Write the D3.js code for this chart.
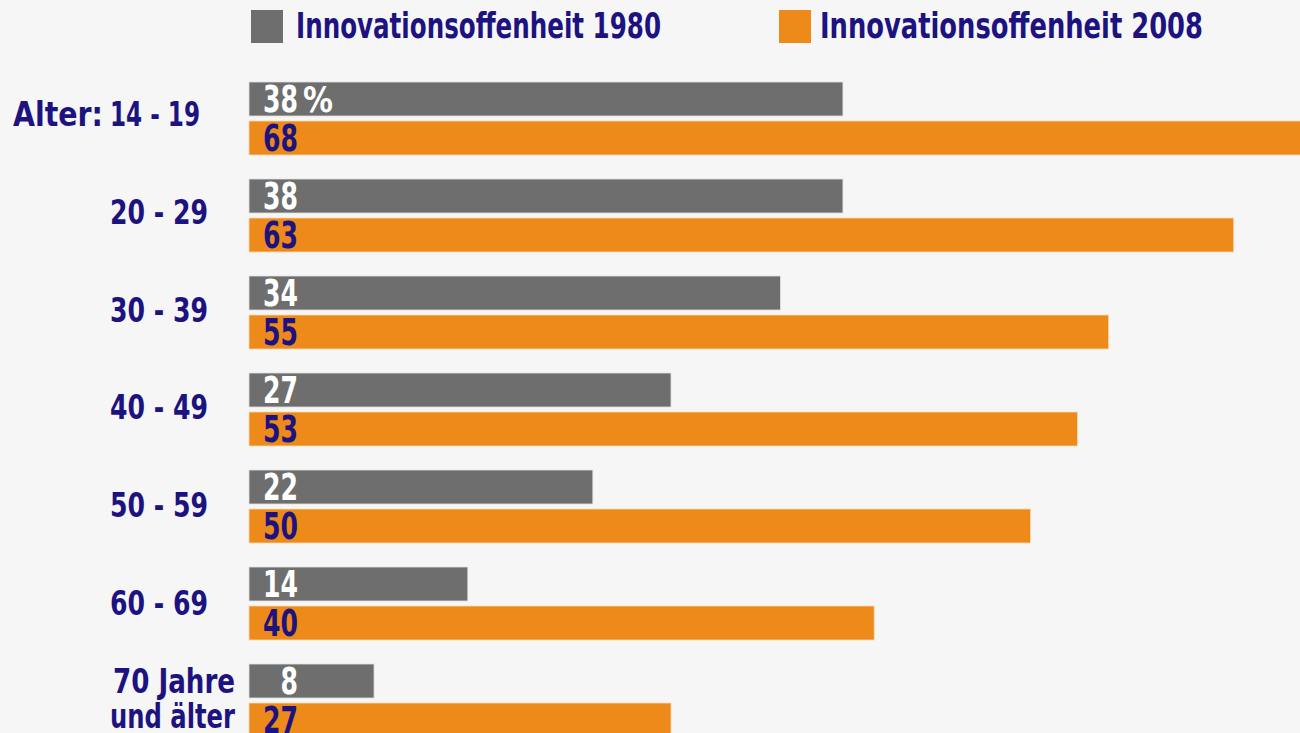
<!DOCTYPE html>
<html><head><meta charset="utf-8">
<script src="https://cdn.jsdelivr.net/npm/d3@7"></script>
<style>
html,body{margin:0;padding:0;background:#f6f6f6;}
svg{display:block;}
text{font-family:"Liberation Sans Narrow","Arial Narrow","DejaVu Sans Condensed",sans-serif;font-weight:bold;}
</style></head>
<body>
<svg id="c" width="1300" height="733"></svg>
<script>
const categories = ["14 - 19","20 - 29","30 - 39","40 - 49","50 - 59","60 - 69","70 Jahre|und älter"];
const values1980 = [38,38,34,27,22,14,8];
const values2008 = [68,63,55,53,50,40,27];
const seriesNames = ["Innovationsoffenheit 1980","Innovationsoffenheit 2008"];

const grey = "#6d6e6d", orange = "#ee8a1a", navy = "#1c1280";
const svg = d3.select("#c");
svg.append("rect").attr("width",1300).attr("height",733).attr("fill","#f6f6f6");

const x = d3.scaleLinear().domain([0,100]).range([249, 249+1563]);
const y = d3.scaleBand().domain(categories).range([82, 82+97*7]).paddingInner(0).paddingOuter(0);
const barH = 34, gap = 5;

// legend
const leg = [{c:grey,x:251,tx:296,w:365},{c:orange,x:779,tx:820,w:383}];
leg.forEach((l,i)=>{
  svg.append("rect").attr("x",l.x).attr("y",10).attr("width",32).attr("height",33).attr("fill",l.c);
  svg.append("text").attr("x",l.tx).attr("y",38).attr("font-size",36).attr("fill",navy)
    .attr("textLength",l.w).attr("lengthAdjust","spacingAndGlyphs").text(seriesNames[i]);
});

const numLen = v => String(v).length*17.5;

const g = svg.append("g");
categories.forEach((c,i)=>{
  const y0 = y(c);
  g.append("rect").attr("x",x(0)).attr("y",y0).attr("width",x(values1980[i])-x(0)).attr("height",barH)
    .attr("fill",grey).attr("stroke","#e2e2e2").attr("stroke-width",0.8);
  g.append("rect").attr("x",x(0)).attr("y",y0+barH+gap).attr("width",x(values2008[i])-x(0)).attr("height",barH)
    .attr("fill",orange).attr("stroke","#f7d9b5").attr("stroke-width",0.8);
  g.append("text").attr("x",298).attr("y",y0+30).attr("text-anchor","end").attr("font-size",37)
    .attr("fill","#ffffff").attr("textLength",numLen(values1980[i])).attr("lengthAdjust","spacingAndGlyphs")
    .text(values1980[i]);
  if(i===0){
    g.append("text").attr("x",303).attr("y",y0+30).attr("font-size",35).attr("fill","#ffffff")
      .attr("textLength",30).attr("lengthAdjust","spacingAndGlyphs").text("%");
  }
  g.append("text").attr("x",298).attr("y",y0+barH+gap+30).attr("text-anchor","end").attr("font-size",37)
    .attr("fill",navy).attr("textLength",numLen(values2008[i])).attr("lengthAdjust","spacingAndGlyphs")
    .text(values2008[i]);

  // category labels
  const parts = c.split("|");
  if(parts.length===1){
    const by = y0 + 44 + i*0.8;
    g.append("text").attr("x",110).attr("y",by).attr("font-size",33).attr("fill",navy)
      .attr("textLength", i===0 ? 90 : 98).attr("lengthAdjust","spacingAndGlyphs").text(c);
    if(i===0){
      g.append("text").attr("x",103).attr("y",by).attr("text-anchor","end").attr("font-size",33).attr("fill",navy)
        .attr("textLength",90).attr("lengthAdjust","spacingAndGlyphs").text("Alter:");
    }
  } else {
    g.append("text").attr("x",113).attr("y",y0+29).attr("font-size",33).attr("fill",navy)
      .attr("textLength",122).attr("lengthAdjust","spacingAndGlyphs").text(parts[0]);
    g.append("text").attr("x",110).attr("y",y0+64).attr("font-size",33).attr("fill",navy)
      .attr("textLength",125).attr("lengthAdjust","spacingAndGlyphs").text(parts[1]);
  }
});
</script>
</body></html>
